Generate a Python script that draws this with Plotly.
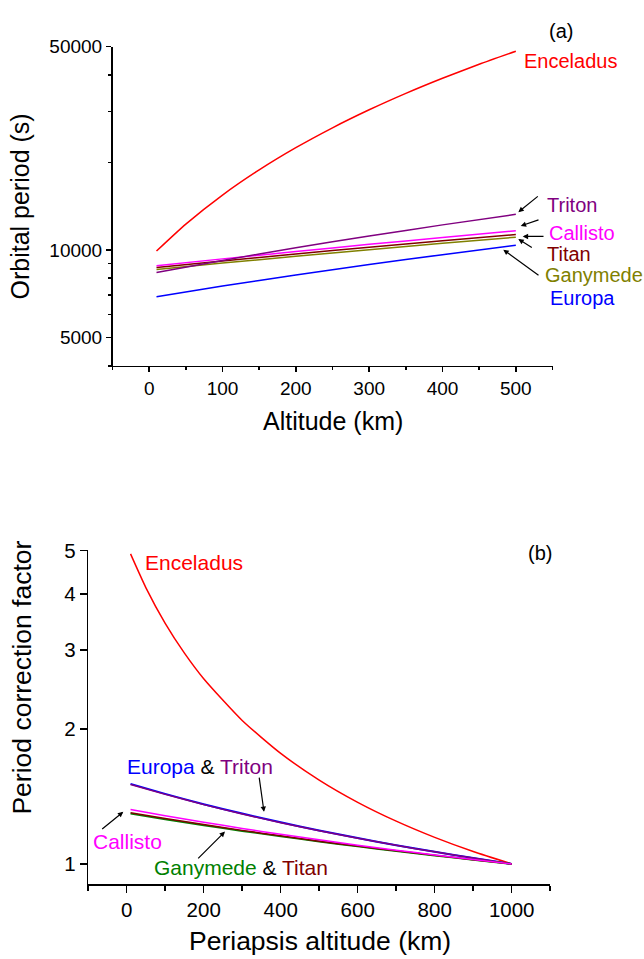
import plotly.graph_objects as go

W, H = 644, 959

# ---------------- data (a): orbital period vs altitude ----------------
alt_enc_a = [10, 50, 100, 150, 200, 250, 300, 350, 400, 450, 500]
enceladus_a = [9923, 12281, 15453, 18860, 22486, 26319, 30347, 34562, 38957, 43523, 48255]
alt_a = [10, 100, 200, 300, 400, 500]
triton_a = [8368, 9211, 10177, 11176, 12205, 13264]
callisto_a = [8828, 9325, 9888, 10462, 11046, 11641]
titan_a = [8715, 9174, 9693, 10222, 10760, 11307]
ganymede_a = [8576, 9018, 9518, 10027, 10545, 11070]
europa_a = [6913, 7516, 8205, 8913, 9641, 10388]

# ---------------- data (b): period correction factor ----------------
alt_enc_b = [10, 50, 100, 150, 200, 300, 400, 500, 600, 700, 800, 900, 1000]
enceladus_b = [4.911, 4.127, 3.439, 2.951, 2.588, 2.089, 1.764, 1.538, 1.372, 1.2455, 1.146, 1.0658, 1.0]
alt_b = [10, 100, 200, 300, 400, 500, 600, 700, 800, 900, 1000]
europa_b = [1.508, 1.433, 1.359, 1.295, 1.238, 1.187, 1.142, 1.101, 1.064, 1.031, 1.0]
triton_b = [1.503, 1.429, 1.356, 1.292, 1.236, 1.186, 1.141, 1.100, 1.064, 1.031, 1.0]
callisto_b = [1.322, 1.281, 1.239, 1.200, 1.164, 1.132, 1.101, 1.073, 1.047, 1.023, 1.0]
ganymede_b = [1.294, 1.257, 1.219, 1.184, 1.152, 1.122, 1.094, 1.068, 1.044, 1.021, 1.0]
titan_b = [1.301, 1.263, 1.224, 1.188, 1.155, 1.124, 1.096, 1.070, 1.045, 1.022, 1.0]

# tick labels
ya_ticks = [5000, 10000, 50000]
ya_minor = [4000, 6000, 7000, 8000, 9000, 20000, 30000, 40000]
xa_ticks = [0, 100, 200, 300, 400, 500]
xa_minor = [-50, 50, 150, 250, 350, 450, 550]
yb_ticks = [1, 2, 3, 4, 5]
xb_ticks = [0, 200, 400, 600, 800, 1000]
xb_minor = [-100, 100, 300, 500, 700, 900, 1100]

RED, PURPLE, MAGENTA, DARKRED, OLIVE, GREEN, BLUE = (
    "#FF0000", "#800080", "#FF00FF", "#800000", "#808000", "#008000", "#0000FF")
FONT = "Liberation Sans, Arial, sans-serif"


def px(x):
    return x / W


def py(y):
    return 1 - y / H


fig = go.Figure()


def add(x, y, color, xa, ya, width=1.5):
    fig.add_trace(go.Scatter(x=x, y=y, mode="lines", xaxis=xa, yaxis=ya,
                             line=dict(color=color, width=width, shape="spline", smoothing=0.6),
                             showlegend=False, hoverinfo="skip"))


# panel (a)
add(alt_enc_a, enceladus_a, RED, "x", "y")
add(alt_a, europa_a, BLUE, "x", "y")
add(alt_a, ganymede_a, OLIVE, "x", "y")
add(alt_a, titan_a, DARKRED, "x", "y")
add(alt_a, callisto_a, MAGENTA, "x", "y")
add(alt_a, triton_a, PURPLE, "x", "y")

# panel (b)
add(alt_enc_b, enceladus_b, RED, "x2", "y2")
add(alt_b, europa_b, BLUE, "x2", "y2", 2.0)
add(alt_b, triton_b, PURPLE, "x2", "y2", 1.5)
add(alt_b, ganymede_b, GREEN, "x2", "y2", 1.8)
add(alt_b, titan_b, DARKRED, "x2", "y2", 1.5)
add(alt_b, callisto_b, MAGENTA, "x2", "y2", 1.5)

axis_common = dict(showline=True, linecolor="black", linewidth=1.5, ticks="outside",
                   tickcolor="black", tickwidth=1.5, showgrid=False, zeroline=False,
                   mirror=False)

fig.update_layout(
    width=W, height=H, autosize=False,
    margin=dict(l=0, r=0, t=0, b=0),
    paper_bgcolor="white", plot_bgcolor="white",
    font=dict(family=FONT, color="black"),
    xaxis=dict(domain=[112.5 / W, 552.5 / W], anchor="y", range=[-50, 550],
               tickmode="array", tickvals=xa_ticks, ticklen=5,
               tickfont=dict(size=19, family=FONT),
               minor=dict(tickmode="array", tickvals=xa_minor, ticklen=3, ticks="outside",
                          tickcolor="black", tickwidth=1.5),
               **axis_common),
    yaxis=dict(domain=[py(358.3), py(35)], anchor="x", type="log",
               range=[3.602, 4.6995], tickmode="array", tickvals=ya_ticks,
               ticktext=[str(v) for v in ya_ticks], ticklen=5,
               tickfont=dict(size=19, family=FONT),
               minor=dict(tickmode="array", tickvals=ya_minor, ticklen=3, ticks="outside",
                          tickcolor="black", tickwidth=1.5),
               **axis_common),
    xaxis2=dict(domain=[88.2 / W, 550.2 / W], anchor="y2", range=[-100, 1100],
                tickmode="array", tickvals=xb_ticks, ticklen=7,
                tickfont=dict(size=20.5, family=FONT),
                minor=dict(tickmode="array", tickvals=xb_minor, ticklen=5, ticks="outside",
                           tickcolor="black", tickwidth=1.5),
                **axis_common),
    yaxis2=dict(domain=[py(883.3), py(545)], anchor="x2", type="log",
                range=[-0.0453, 0.6995], tickmode="array", tickvals=yb_ticks,
                ticktext=[str(v) for v in yb_ticks], ticklen=7,
                tickfont=dict(size=20.5, family=FONT),
                **axis_common),
)

ann = []


def label(x, y, text, color, size, xanchor="left", angle=0):
    ann.append(dict(x=px(x), y=py(y), xref="paper", yref="paper", text=text,
                    showarrow=False, xanchor=xanchor, yanchor="middle", textangle=angle,
                    font=dict(size=size, color=color, family=FONT)))


def arrow(tx, ty, hx, hy):
    ann.append(dict(x=px(hx), y=py(hy), xref="paper", yref="paper", text="",
                    showarrow=True, ax=tx - hx, ay=ty - hy, axref="pixel", ayref="pixel",
                    arrowhead=2, arrowsize=0.9, arrowwidth=1.2, arrowcolor="black",
                    standoff=0, startstandoff=0))


# axis titles
label(20, 197, "Orbital period (s)", "black", 25, "center", -90)
label(332.5, 414, "Altitude (km)", "black", 25, "center")
label(22, 674, "Period correction factor", "black", 26.5, "center", -90)
label(319.5, 941, "Periapsis altitude (km)", "black", 26.5, "center")

# panel (a) labels
label(561, 19, "(a)", "black", 20, "center")
label(522, 50, "Enceladus", RED, 20)
label(545, 195, "Triton", PURPLE, 20)
label(546.5, 223.3, "Callisto", MAGENTA, 20)
label(545, 245, "Titan", DARKRED, 20)
label(543.3, 266, "Ganymede", OLIVE, 20)
label(548.3, 290, "Europa", BLUE, 20)
arrow(539.3, 185.7, 518.3, 202.7)
arrow(540, 210, 520.7, 216.7)
arrow(545, 227.3, 522.7, 227.3)
arrow(533.3, 239.3, 518.3, 230)
arrow(540, 267.3, 503.3, 240.7)

# panel (b) labels
label(540, 548, "(b)", "black", 20, "center")
label(143, 557.7, "Enceladus", RED, 21)
label(125, 764.3, f'<span style="color:{BLUE}">Europa</span> &amp; <span style="color:{PURPLE}">Triton</span>', "black", 21)
label(91, 840, "Callisto", MAGENTA, 21)
label(151.7, 866, f'<span style="color:{GREEN}">Ganymede</span> &amp; <span style="color:{DARKRED}">Titan</span>', "black", 21)
arrow(259, 774.3, 264, 810)
arrow(100.7, 828.3, 123.3, 810)
arrow(196.7, 858.3, 225, 830)

fig.update_layout(annotations=ann)
fig.write_html("out.html", config={"displayModeBar": False, "staticPlot": True},
               post_script="document.body.style.margin='0';document.body.style.overflow='hidden';")
